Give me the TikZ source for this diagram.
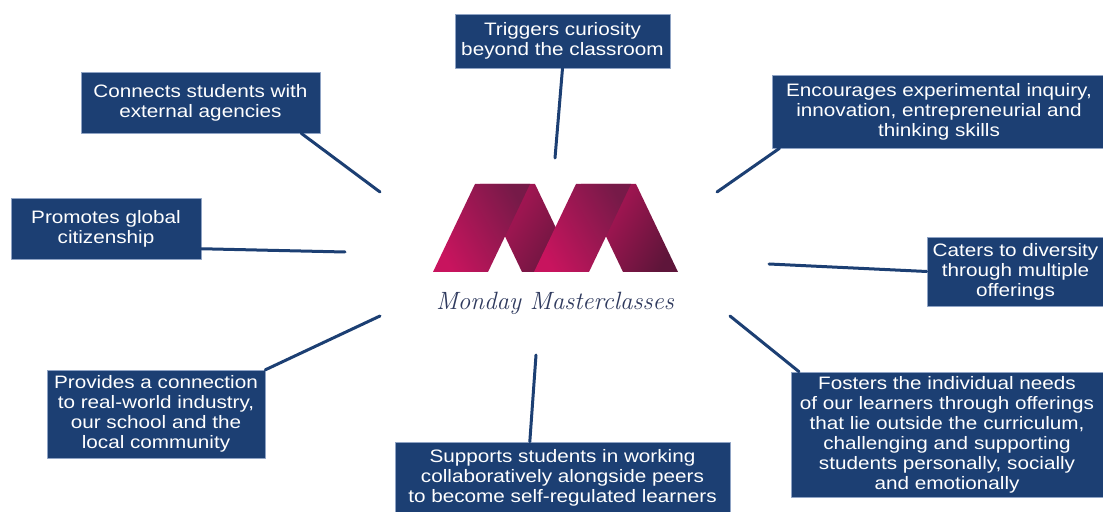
\documentclass[tikz,border=0pt]{standalone}
\usepackage{fontspec}
\setsansfont{Liberation Sans}[FakeStretch=1.15]
\definecolor{mmnavy}{HTML}{1C3F73}
\definecolor{mmedge}{HTML}{8FA3C4}
\definecolor{mmpink}{HTML}{C8145E}
\definecolor{mmplum}{HTML}{761A48}
\definecolor{mmscript}{HTML}{2F3A5E}
\begin{document}
\begin{tikzpicture}[x=.5pt, y=-.5pt, font=\sffamily\fontsize{9}{10}\selectfont, line join=round, line cap=round,
		box/.style={fill=mmnavy, draw=mmedge, line width=.3pt, text=white, align=center, inner sep=0pt},
		link/.style={draw=mmnavy, line width=1.5pt}]
		\useasboundingbox (0,0) rectangle (1103,512);
		% logo
		\shade[left color=mmpink!80!mmplum, right color=mmplum!85!black, shading angle=60] (480,184)--(535,184)--(577,272)--(522,272)--cycle;
		\shade[left color=mmpink!80!mmplum, right color=mmplum!80!black, shading angle=60] (581,184)--(636,184)--(678,272)--(623,272)--cycle;
		\shade[left color=mmpink, right color=mmplum, shading angle=120] (433,272)--(475,184)--(530,184)--(488,272)--cycle;
		\shade[left color=mmpink, right color=mmplum, shading angle=120] (534,272)--(576,184)--(631,184)--(589,272)--cycle;
		\node[text=mmscript, font=\rmfamily\itshape\fontsize{12.5}{14}\selectfont] (title) at (555,303) {Monday Masterclasses};
		% boxes
		\node[box, minimum width=107.5pt, minimum height=27pt] (trig) at (562.5,41) {Triggers curiosity\\beyond the classroom};
		\node[box, minimum width=119.5pt, minimum height=30.5pt] (conn) at (200.5,102.5) {Connects students with\\external agencies};
		\node[box, minimum width=95pt, minimum height=30.5pt] (glob) at (106,228.5) {Promotes global\\citizenship};
		\node[box, minimum width=167pt, minimum height=36.5pt] (enc) at (939,111.5) {Encourages experimental inquiry,\\innovation, entrepreneurial and\\thinking skills};
		\node[box, minimum width=88.5pt, minimum height=34.5pt] (cat) at (1015.5,271.5) {Caters to diversity\\through multiple\\offerings};
		\node[box, minimum width=109pt, minimum height=44pt] (prov) at (156,414) {Provides a connection\\to real-world industry,\\our school and the\\local community};
		\node[box, minimum width=167.5pt, minimum height=36pt] (sup) at (562.5,478) {Supports students in working\\collaboratively alongside peers\\to become self-regulated learners};
		\node[box, minimum width=156pt, minimum height=62.5pt] (fost) at (947,434.5) {Fosters the individual needs\\of our learners through offerings\\that lie outside the curriculum,\\challenging and supporting\\students personally, socially\\and emotionally};
		% free ends near the logo
		\coordinate (e1) at (555,158);
		\coordinate (e2) at (380,192);
		\coordinate (e3) at (345,252);
		\coordinate (e4) at (717,192);
		\coordinate (e5) at (769,264);
		\coordinate (e6) at (380,316);
		\coordinate (e7) at (536,355);
		\coordinate (e8) at (730,316);
		\draw[link] (trig.south) -- (e1);
		\draw[link] (conn.-17) -- (e2);
		\draw[link] (glob.-12) -- (e3);
		\draw[link] (enc.193) -- (e4);
		\draw[link] (cat.west) -- (e5);
		\draw[link] (prov.22) -- (e6);
		\draw[link] (sup.132) -- (e7);
		\draw[link] (fost.157) -- (e8);
	\end{tikzpicture}
\end{document}
